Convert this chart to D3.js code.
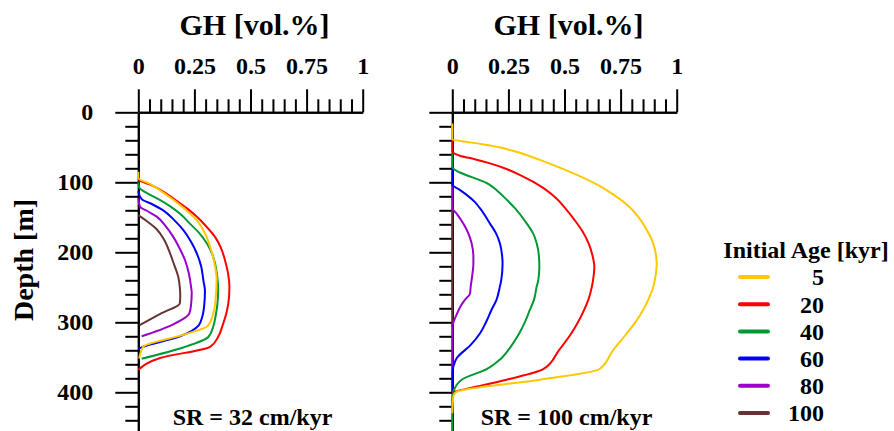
<!DOCTYPE html>
<html>
<head>
<meta charset="utf-8">
<script src="https://cdn.jsdelivr.net/npm/d3@7"></script>
<style>
  html, body { margin: 0; padding: 0; background: #fff; }
  svg text { font-family: "Liberation Serif", "Times New Roman", Times, Tinos, "Nimbus Roman", "Noto Serif", "DejaVu Serif", serif; font-weight: 700; fill: #000; }
</style>
</head>
<body>
<div id="chart"></div>
<script>
// ---- data: [GH vol.%, depth m] ----
const ages = [5, 20, 40, 60, 80, 100];
const colors = ['#ffc800', '#ff0000', '#009933', '#0000ff', '#9900cc', '#663333'];

const sr32_age5 = [[0,85],[0,94],[0.05,102],[0.09,110],[0.156,125],[0.21,139],[0.26,154],[0.30,175],[0.32,192],[0.342,220],[0.349,238],[0.346,260],[0.336,285],[0.31,305],[0.20,318],[0.022,335],[0.004,352]];
const sr32_age20 = [[0,97],[0.05,103],[0.10,111],[0.16,124],[0.22,138],[0.26,149],[0.30,162],[0.342,178],[0.37,195],[0.386,211],[0.40,230],[0.406,249],[0.404,265],[0.394,285],[0.375,305],[0.357,320],[0.32,335],[0.097,351],[0,368]];
const sr32_age40 = [[0,100],[0.005,108],[0.037,115],[0.09,124],[0.141,134],[0.19,146],[0.23,159],[0.27,172],[0.305,187],[0.33,203],[0.342,216],[0.352,235],[0.356,254],[0.352,275],[0.345,290],[0.335,305],[0.312,321],[0.20,336],[0.015,352]];
const sr32_age60 = [[0,113],[0.015,124],[0.06,131],[0.111,140],[0.16,154],[0.20,168],[0.235,185],[0.26,201],[0.28,220],[0.29,240],[0.297,255],[0.294,275],[0.285,292],[0.27,304],[0.186,320],[0.022,335],[0,338]];
const sr32_age80 = [[0,123],[0.008,135],[0.04,141],[0.082,149],[0.12,162],[0.156,178],[0.185,195],[0.208,211],[0.225,230],[0.235,249],[0.238,258],[0.235,275],[0.228,287],[0.149,304],[0.015,320]];
const sr32_age100 = [[0,147],[0.04,156],[0.082,167],[0.115,182],[0.141,201],[0.16,218],[0.178,235],[0.185,250],[0.187,262],[0.185,273],[0.104,287],[0.006,304]];

const sr100_age5 = [[0,16],[0,39],[0.06,42],[0.14,46],[0.21,50],[0.27,55],[0.33,61],[0.39,68],[0.47,78],[0.56,90],[0.65,104],[0.72,118],[0.785,134],[0.835,152],[0.87,170],[0.895,187],[0.908,205],[0.911,216],[0.905,235],[0.896,249],[0.873,268],[0.851,282],[0.82,298],[0.777,316],[0.716,340],[0.655,367],[0.391,382],[0.02,399],[0.005,405],[0,430]];
const sr100_age20 = [[0,16],[0,56],[0.034,62],[0.10,67],[0.168,73],[0.25,82],[0.316,92],[0.365,100],[0.41,109],[0.47,125],[0.503,137],[0.545,154],[0.58,170],[0.607,187],[0.625,205],[0.633,221],[0.627,240],[0.622,249],[0.606,268],[0.588,282],[0.56,300],[0.53,316],[0.475,340],[0.405,367],[0.242,382],[0.012,399],[0,400]];
const sr100_age40 = [[0,59],[0,78],[0.034,86],[0.09,93],[0.153,101],[0.20,112],[0.243,125],[0.279,137],[0.332,159],[0.36,173],[0.376,187],[0.386,205],[0.388,221],[0.383,240],[0.376,249],[0.364,268],[0.346,282],[0.323,300],[0.298,316],[0.26,335],[0.213,353],[0.153,367],[0.042,382],[0.005,399],[0,410],[0,460]];
const sr100_age60 = [[0,78],[0,104],[0.03,110],[0.064,118],[0.10,128],[0.123,137],[0.168,159],[0.195,173],[0.212,187],[0.222,205],[0.224,216],[0.218,240],[0.212,249],[0.197,268],[0.175,282],[0.15,300],[0.123,316],[0.08,333],[0.02,351],[0.005,363],[0,370],[0,400]];
const sr100_age80 = [[0,104],[0,137],[0.02,145],[0.049,159],[0.07,172],[0.086,187],[0.094,205],[0.094,216],[0.088,235],[0.082,249],[0.079,259],[0.056,268],[0.035,278],[0.022,287],[0.004,301],[0,305],[0,366]];
const sr100_age100 = [[0,135],[0,305]];

const xMajor = [0, 0.25, 0.5, 0.75, 1];
const xMajorLabels = ['0', '0.25', '0.5', '0.75', '1'];
const yMajor = [0, 100, 200, 300, 400];

const panels = [
  { label: 'SR = 32 cm/kyr', left: 138.3, showY: true,
    series: [sr32_age5, sr32_age20, sr32_age40, sr32_age60, sr32_age80, sr32_age100] },
  { label: 'SR = 100 cm/kyr', left: 452.3, showY: false,
    series: [sr100_age5, sr100_age20, sr100_age40, sr100_age60, sr100_age80, sr100_age100] }
];

const width = 894, height = 431;
const svg = d3.select('#chart').append('svg')
  .attr('width', width).attr('height', height)
  .attr('viewBox', `0 0 ${width} ${height}`);

const y = d3.scaleLinear().domain([0, 460]).range([112.3, 434.3]);
const xMinor = d3.range(0, 1.0001, 0.05).filter(v => Math.abs(v * 4 - Math.round(v * 4)) > 1e-6);
const yMinor = d3.range(0, 461, 20).filter(v => v % 100 !== 0);

function styleAxis(sel) {
  sel.attr('font-family', null).attr('font-size', 24);
  sel.selectAll('path, line').attr('stroke', '#000').attr('stroke-width', 2);
  sel.selectAll('text').attr('fill', '#000');
}

panels.forEach(p => {
  const x = d3.scaleLinear().domain([0, 1]).range([p.left, p.left + 224.4]);
  const g = svg.append('g');

  // x axis (top)
  g.append('g').attr('transform', `translate(0,${y(0)})`)
    .call(d3.axisTop(x).tickValues(xMinor).tickSize(13).tickSizeOuter(0).tickFormat(''))
    .call(styleAxis);
  g.append('g').attr('transform', `translate(0,${y(0)})`)
    .call(d3.axisTop(x).tickValues(xMajor).tickSize(23).tickSizeOuter(0).tickPadding(15)
      .tickFormat((d, i) => xMajorLabels[i]))
    .call(styleAxis);

  // y axis (left)
  g.append('g').attr('transform', `translate(${x(0)},0)`)
    .call(d3.axisLeft(y).tickValues(yMinor).tickSize(13).tickSizeOuter(0).tickFormat(''))
    .call(styleAxis);
  g.append('g').attr('transform', `translate(${x(0)},0)`)
    .call(d3.axisLeft(y).tickValues(yMajor).tickSize(23).tickSizeOuter(0).tickPadding(22)
      .tickFormat(p.showY ? d3.format('d') : ''))
    .call(styleAxis);

  g.append('text')
    .attr('x', (x(0) + x(1)) / 2 + 4).attr('y', 35)
    .attr('text-anchor', 'middle').attr('font-size', 30)
    .text('GH [vol.%]');

  g.append('text')
    .attr('x', (x(0) + x(1)) / 2 + 2).attr('y', 425)
    .attr('text-anchor', 'middle').attr('font-size', 24)
    .text(p.label);

  const line = d3.line()
    .x(d => x(d[0]))
    .y(d => y(d[1]))
    .curve(d3.curveMonotoneY);

  // draw oldest first so the 5 kyr curve ends up on top
  const order = d3.range(ages.length).reverse();
  g.append('g').selectAll('path').data(order).join('path')
    .attr('fill', 'none')
    .attr('stroke', i => colors[i])
    .attr('stroke-width', 2)
    .attr('stroke-linejoin', 'round')
    .attr('d', i => line(p.series[i]));
});

svg.append('text')
  .attr('transform', 'translate(33,260) rotate(-90)')
  .attr('text-anchor', 'middle').attr('font-size', 28)
  .text('Depth [m]');

// legend
const leg = svg.append('g');
leg.append('text')
  .attr('x', 806).attr('y', 258)
  .attr('text-anchor', 'middle').attr('font-size', 24)
  .text('Initial Age [kyr]');
const ly = d3.scalePoint().domain(ages).range([277, 413]);
leg.selectAll('line').data(ages).join('line')
  .attr('x1', 740).attr('x2', 768)
  .attr('y1', d => ly(d)).attr('y2', d => ly(d))
  .attr('stroke', (d, i) => colors[i])
  .attr('stroke-width', 4)
  .attr('stroke-linecap', 'round');
leg.selectAll('text.lab').data(ages).join('text')
  .attr('class', 'lab')
  .attr('x', 824).attr('y', d => ly(d))
  .attr('dy', '0.35em')
  .attr('text-anchor', 'end').attr('font-size', 24)
  .text(d => d);
</script>
</body>
</html>
